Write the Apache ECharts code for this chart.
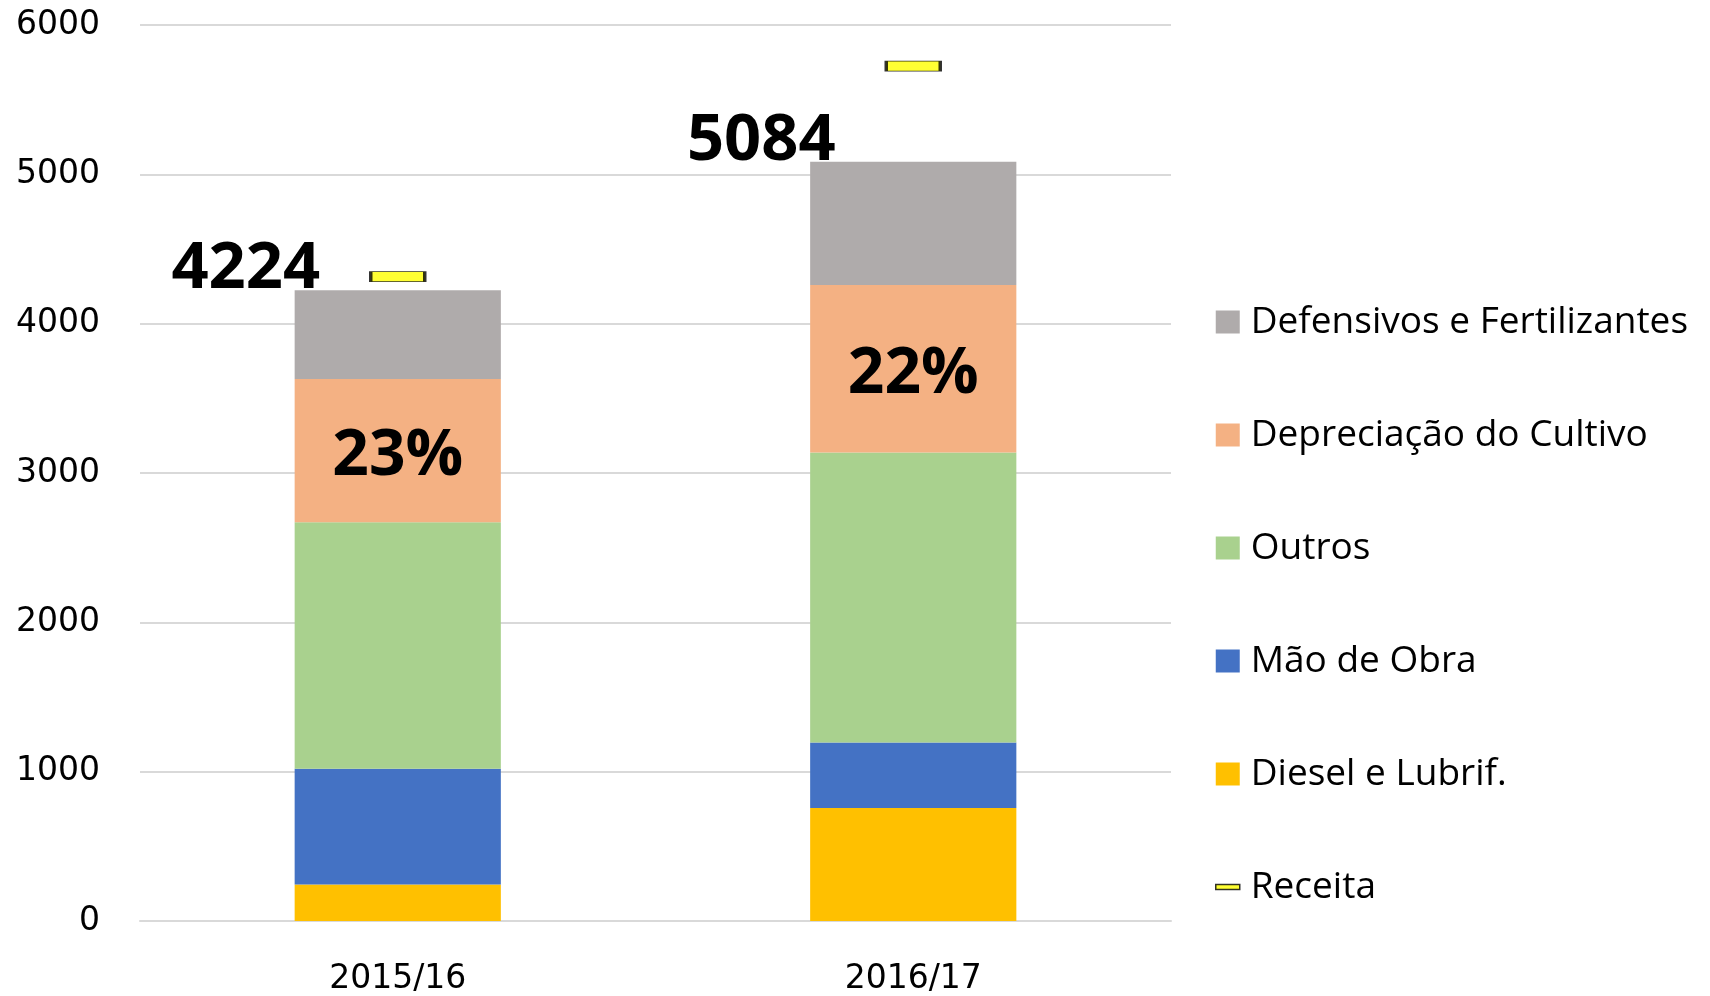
<!DOCTYPE html>
<html lang="pt">
<head>
  <meta charset="UTF-8">
  <title>Custos de produção</title>
  <script src="https://cdn.jsdelivr.net/npm/echarts@6/dist/echarts.min.js"></script>
  <style>
    html, body { margin: 0; padding: 0; background: #fff; }
  </style>
</head>
<body>
  <div id="main" style="width: 1710px;height:996px;"></div>
  <script type="text/javascript">
      // dados
      var categorias = ['2015/16', '2016/17'];
      var diesel = [245, 756];
      var maoDeObra = [775, 439];
      var outros = [1650, 1943];
      var depreciacao = [960, 1121];
      var defensivos = [594, 825];
      var receita = [4315, 5725];
      var yTicks = [0, 1000, 2000, 3000, 4000, 5000, 6000];

      // total de cada barra
      var totais = categorias.map(function (c, i) {
        return diesel[i] + maoDeObra[i] + outros[i] + depreciacao[i] + defensivos[i];
      });

      var myChart = echarts.init(document.getElementById('main'));

      var fonte = '"Open Sans", sans-serif';

      function barra(nome, dados, cor) {
        return {
          name: nome,
          type: 'bar',
          stack: 'custo',
          barWidth: '40%',
          data: dados,
          itemStyle: { color: cor },
          emphasis: { disabled: true }
        };
      }

      var sDepr = barra('Depreciação do Cultivo', depreciacao, '#F4B183');
      sDepr.label = {
        show: true,
        position: 'inside',
        offset: [0, 6],
        color: '#000',
        fontFamily: fonte,
        fontWeight: 'bold',
        fontSize: 64,
        formatter: function (p) {
          return Math.round(depreciacao[p.dataIndex] / totais[p.dataIndex] * 100) + '%';
        }
      };

      var sDef = barra('Defensivos e Fertilizantes', defensivos, '#AFABAB');
      sDef.label = {
        show: true,
        position: 'top',
        distance: -12,
        offset: [-152, 0],
        color: '#000',
        fontFamily: fonte,
        fontWeight: 'bold',
        fontSize: 65,
        formatter: function (p) { return totais[p.dataIndex]; }
      };

      var option = {
        animation: false,
        grid: { left: 140, right: 539, top: 25, bottom: 72 },
        legend: {
          orient: 'vertical',
          left: 1210,
          top: 297,
          icon: 'rect',
          itemWidth: 24,
          itemHeight: 23,
          itemGap: 73,
          textStyle: { fontFamily: fonte, fontSize: 37, color: '#000', lineHeight: 40, padding: [0, 0, 0, 6] },
          data: [
            'Defensivos e Fertilizantes',
            'Depreciação do Cultivo',
            'Outros',
            'Mão de Obra',
            'Diesel e Lubrif.',
            {
              name: 'Receita',
              icon: 'path://M0,0 H24 V5 H0 Z',
              itemStyle: { color: '#FFFF00', borderColor: '#000', borderWidth: 1.5 }
            }
          ]
        },
        xAxis: {
          type: 'category',
          data: categorias,
          axisLine: { lineStyle: { color: '#D9D9D9', width: 2 } },
          axisTick: { show: false },
          axisLabel: { color: '#000', fontFamily: '"DejaVu Sans"', fontSize: 33, margin: 42 }
        },
        yAxis: {
          type: 'value',
          min: yTicks[0],
          max: yTicks[yTicks.length - 1],
          interval: 1000,
          axisLine: { show: false },
          axisTick: { show: false },
          splitLine: { lineStyle: { color: '#D9D9D9', width: 2 } },
          axisLabel: {
            color: '#000', fontFamily: '"DejaVu Sans"', fontSize: 33, margin: 40,
            formatter: function (v) { return String(v); }
          }
        },
        series: [
          barra('Diesel e Lubrif.', diesel, '#FFC000'),
          barra('Mão de Obra', maoDeObra, '#4472C4'),
          barra('Outros', outros, '#A9D18E'),
          sDepr,
          sDef,
          {
            name: 'Receita',
            type: 'scatter',
            data: receita,
            symbol: 'rect',
            symbolSize: [54, 10],
            itemStyle: { color: '#FFFF00', borderColor: '#000', borderWidth: 1.5 },
            z: 5
          }
        ]
      };

      myChart.setOption(option);
  </script>
</body>
</html>
